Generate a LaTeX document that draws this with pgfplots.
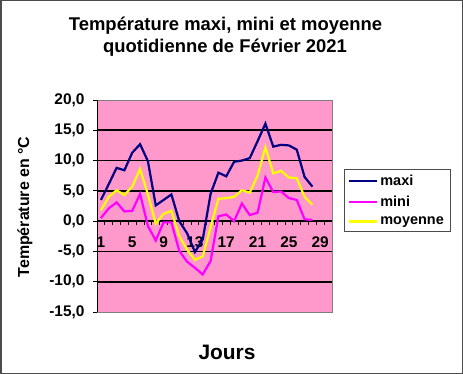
\documentclass[border=0pt]{standalone}
\usepackage{pgfplots}
\usepackage{pgfplotstable}
\pgfplotsset{compat=1.18}
\usepackage{fontspec}
\setmainfont{Liberation Sans}
\definecolor{pinkbg}{HTML}{FF99CC}
\definecolor{navyc}{HTML}{000080}
\definecolor{magc}{HTML}{FF00FF}
\definecolor{yelc}{HTML}{FFFF00}
\pgfplotstableread{
jour maxi mini moy
1 3.5 0.5 1.8
2 6.1 2.1 4.0
3 8.8 3.1 5.1
4 8.4 1.6 4.3
5 11.3 1.7 5.7
6 12.7 4.5 8.6
7 9.9 -0.8 4.4
8 2.6 -3.2 -0.4
9 3.5 -0.2 1.2
10 4.4 -0.2 1.7
11 0.0 -4.9 -2.5
12 -2.0 -6.7 -4.7
13 -5.1 -7.7 -6.4
14 -3.0 -8.8 -5.8
15 4.5 -6.6 -1.0
16 8.0 0.8 3.7
17 7.4 1.1 3.8
18 9.8 0.0 4.0
19 10.0 2.9 5.1
20 10.4 1.0 4.7
21 13.2 1.4 7.5
22 16.1 7.2 12.2
23 12.3 4.8 7.9
24 12.6 4.9 8.3
25 12.5 3.8 7.2
26 11.8 3.5 7.1
27 7.3 0.3 4.0
28 5.7 0.2 2.7
}\datatable
\begin{document}
\begin{tikzpicture}
\useasboundingbox (0,0) rectangle (463bp,374bp);
\fill[white] (0,0) rectangle (463bp,374bp);
\draw[gray!60!black, line width=1.5bp] (0.75bp,0.75bp) rectangle (462.25bp,373.25bp);
\node[anchor=base, font=\bfseries\fontsize{18.5}{18.5}\selectfont] at (225.5bp,343bp) {Température maxi, mini et moyenne};
\node[anchor=base, font=\bfseries\fontsize{18.5}{18.5}\selectfont] at (225bp,321bp) {quotidienne de Février 2021};
\node[rotate=90, font=\bfseries\fontsize{16}{16}\selectfont] at (25bp,167bp) {Température en °C};
\node[font=\bfseries\fontsize{21}{21}\selectfont] at (227bp,22bp) {Jours};
\begin{axis}[
  at={(97bp,62bp)}, anchor=south west,
  scale only axis, width=235bp, height=212bp,
  xmin=0.5, xmax=30.5, ymin=-15, ymax=20,
  axis background/.style={fill=pinkbg},
  axis line style={draw=gray, line width=0.8bp},
  ytick={-15,-10,...,20},
  ytick pos=left, tick align=outside, major tick length=4bp,
  ytick style={black, line width=0.8bp},
  y tick label style={font=\bfseries\fontsize{15.5}{15.5}\selectfont, xshift=-5bp, /pgf/number format/.cd, fixed, fixed zerofill, precision=1, use comma, assume math mode=true, /tikz/.cd},
  xtick={1,5,...,29}, xticklabels={1,5,9,13,17,21,25,29},
  xtick style={draw=none},
  x tick label style={font=\bfseries\fontsize{15.5}{15.5}\selectfont, yshift=83bp},
  extra y ticks={-10,-5,0,5,10,15}, extra y tick labels={},
  extra y tick style={ymajorgrids=true, major grid style={black, line width=1.6bp}, tick style={draw=none}},
  legend style={at={(1.051,0.673)}, anchor=north west, draw=gray!60!black, fill=white,
    font=\bfseries\fontsize{14.5}{14.5}\selectfont, row sep=5bp, inner xsep=4bp, inner ysep=3.5bp},
  legend cell align=left,
  legend image code/.code={\draw[#1] (0bp,0bp) -- (28bp,0bp);},
  clip=false,
]
\draw[black, line width=0.8bp] (axis description cs:0,0) -- (axis description cs:0,1);
\pgfplotsinvokeforeach{1.5,2.5,...,29.5}{\draw[black, line width=0.8bp] (axis cs:#1,0) -- ++(0bp,-4bp);}
\addplot[navyc, line width=2.2bp] table[x=jour, y=maxi] {\datatable};
\addlegendentry{maxi}
\addplot[magc, line width=2.2bp] table[x=jour, y=mini] {\datatable};
\addlegendentry{mini}
\addplot[yelc, line width=2.2bp] table[x=jour, y=moy] {\datatable};
\addlegendentry{moyenne}
\end{axis}
\end{tikzpicture}
\end{document}
